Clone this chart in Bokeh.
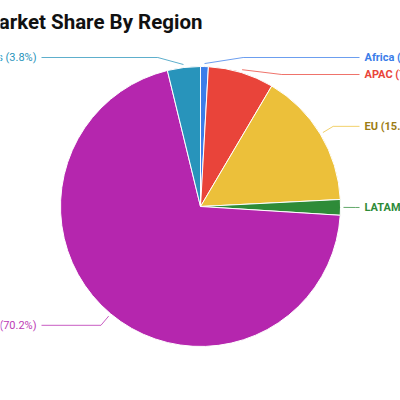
import math
from bokeh.plotting import figure
from bokeh.models import ColumnDataSource, Range1d
from bokeh.core.properties import value
from bokeh.embed import file_html
from bokeh.resources import INLINE

# ---------------- data ----------------
title_text = "Market Share By Region"
regions = ["Africa", "APAC", "EU", "LATAM", "North America", "Others"]
shares = [0.9, 7.6, 15.7, 1.8, 70.2, 3.8]
colors = ["#3b7de9", "#e9443a", "#ecc03a", "#2e8b38", "#b526ae", "#2894bb"]
label_colors = ["#3b7de9", "#e9443a", "#9c7c14", "#2e8b38", "#bd3bb6", "#2894bb"]

# ---------------- layout (canvas pixels) ----------------
W, H = 400, 400
CX, CY = 200.0, 206.0
R = 140.0
RA = R + 15.0
TOP_MIN = 57.0
GAP = 17.0


def py(y_page):
    return H - y_page


total = sum(shares)
cum = [0.0]
for s in shares:
    cum.append(cum[-1] + s / total)

start_angle = [math.pi / 2 - 2 * math.pi * cum[i] for i in range(len(shares))]
end_angle = [math.pi / 2 - 2 * math.pi * cum[i + 1] for i in range(len(shares))]

p = figure(width=W, height=H, output_backend="svg", toolbar_location=None,
           x_range=Range1d(0, W), y_range=Range1d(0, H), min_border=0)
p.outline_line_color = None
p.axis.visible = False
p.grid.visible = False
p.background_fill_color = "white"

wsrc = ColumnDataSource(dict(x=[CX] * len(shares), y=[py(CY)] * len(shares),
                             start=start_angle, end=end_angle, color=colors))
p.wedge(x="x", y="y", radius=R, start_angle="start", end_angle="end",
        direction="clock", fill_color="color", line_color="white", line_width=1,
        source=wsrc)

# labels
labels = []
for i, name in enumerate(regions):
    th = 2 * math.pi * (cum[i] + cum[i + 1]) / 2
    side = 1 if math.sin(th) >= 0 else -1
    labels.append(dict(i=i, th=th, side=side, ynat=CY - RA * math.cos(th)))

for side in (1, -1):
    grp = sorted([l for l in labels if l["side"] == side], key=lambda l: l["ynat"])
    prev = None
    for l in grp:
        y = max(l["ynat"], TOP_MIN)
        if prev is not None:
            y = max(y, prev + GAP)
        l["y"] = y
        prev = y

lx, ly, lcol = [], [], []
tx, ty, tt, talign, tcol, tstyle = [], [], [], [], [], []
for l in labels:
    i, th, side = l["i"], l["th"], l["side"]
    sx = CX + (R + 3) * math.sin(th)
    sy = CY - (R + 3) * math.cos(th)
    dy = l["y"] - CY
    ex = CX + side * math.sqrt(max(RA * RA - dy * dy, 0.0))
    endx = CX + side * 159
    lx.append([sx, ex, endx])
    ly.append([py(sy), py(l["y"]), py(l["y"])])
    lcol.append(colors[i])
    tx.append(CX + side * 164)
    ty.append(py(l["y"]))
    tt.append(f"{regions[i]} ({shares[i]:.1f}%)")
    talign.append("left" if side > 0 else "right")
    tcol.append(label_colors[i])
    tstyle.append("bold" if side > 0 else "normal")

p.multi_line(xs="xs", ys="ys", line_color="c", line_width=1, line_alpha=0.75,
             source=ColumnDataSource(dict(xs=lx, ys=ly, c=lcol)))
p.text(x="x", y="y", text="t", text_align="align", text_baseline="middle",
       text_color="c", text_font_style="fs", text_font=value("Roboto"),
       text_font_size="11px",
       source=ColumnDataSource(dict(x=tx, y=ty, t=tt, align=talign, c=tcol, fs=tstyle)))

# title
p.text(x=[202], y=[py(21)], text=[title_text], text_align="right",
       text_baseline="middle", text_font=value("Roboto"),
       text_font_style="bold", text_font_size="20.5px", text_color="#111111")

open("out.html", "w").write(file_html(p, INLINE))
